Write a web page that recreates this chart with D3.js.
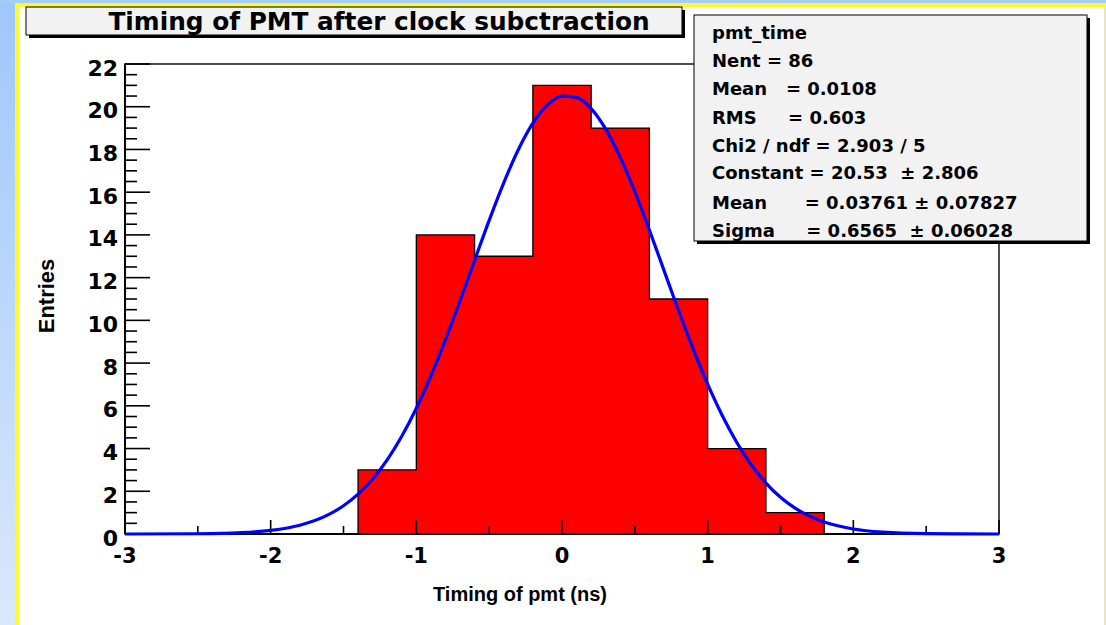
<!DOCTYPE html>
<html><head><meta charset="utf-8">
<script src="https://cdn.jsdelivr.net/npm/d3@7"></script>
<style>html,body{margin:0;padding:0;background:#fff;}svg{display:block;}</style>
</head><body>
<script>
// ---- data ----
const binEdges = [-1.4, -1.0, -0.6, -0.2, 0.2, 0.6, 1.0, 1.4, 1.8];
const binCounts = [3, 14, 13, 21, 19, 11, 4, 1];
// fit curve points (x, entries)
const fitX = [-3.0, -2.5, -2.2, -2.0, -1.8, -1.6, -1.5, -1.4, -1.3, -1.2, -1.1, -1.0, -0.9, -0.8, -0.7, -0.6, -0.5, -0.4, -0.3, -0.2, -0.1, 0.0, 0.1, 0.2, 0.3, 0.4, 0.5, 0.6, 0.7, 0.8, 0.9, 1.0, 1.1, 1.2, 1.3, 1.4, 1.5, 1.6, 1.8, 2.0, 2.2, 2.5, 3.0];
const fitY = [0.0, 0.012, 0.062, 0.166, 0.408, 0.915, 1.322, 1.867, 2.576, 3.473, 4.575, 5.888, 7.404, 9.097, 10.921, 12.811, 14.682, 16.440, 17.987, 19.228, 20.084, 20.496, 20.437, 19.911, 18.954, 17.629, 16.020, 14.224, 12.340, 10.460, 8.663, 7.011, 5.543, 4.282, 3.232, 2.384, 1.718, 1.209, 0.559, 0.236, 0.090, 0.018, 0.0];
const xTicks = [-3, -2, -1, 0, 1, 2, 3];
const yTicks = [0, 2, 4, 6, 8, 10, 12, 14, 16, 18, 20, 22];
const titleText = "Timing of PMT after clock subctraction";
const xTitle = "Timing of pmt (ns)";
const yTitle = "Entries";
const statLines = ["pmt_time", "Nent = 86", "Mean   = 0.0108", "RMS     = 0.603", "Chi2 / ndf = 2.903 / 5", "Constant = 20.53  \u00b1 2.806", "Mean      = 0.03761 \u00b1 0.07827", "Sigma     = 0.6565  \u00b1 0.06028"];

// ---- layout ----
const W = 1106, H = 625;
const svg = d3.select("body").append("svg").attr("width", W).attr("height", H);
const defs = svg.append("defs");
const lg = defs.append("linearGradient").attr("id", "bg").attr("x1", 0).attr("y1", 0).attr("x2", 0).attr("y2", 1);
lg.append("stop").attr("offset", 0).attr("stop-color", "#9ec8fa");
lg.append("stop").attr("offset", 1).attr("stop-color", "#dae8fb");

svg.append("rect").attr("x", 0).attr("y", 0).attr("width", W).attr("height", H).attr("fill", "#fff");
svg.append("rect").attr("x", 0).attr("y", 0).attr("width", 15).attr("height", H).attr("fill", "url(#bg)");
svg.append("rect").attr("x", 0).attr("y", 0).attr("width", W).attr("height", 3).attr("fill", "#a6cdf8");
svg.append("rect").attr("x", 15).attr("y", 3).attr("width", W - 15).attr("height", 4).attr("fill", "#fafa3a");
svg.append("rect").attr("x", 15).attr("y", 3).attr("width", 4).attr("height", H).attr("fill", "#fafa3a");
svg.append("rect").attr("x", 1104).attr("y", 7).attr("width", 2).attr("height", H).attr("fill", "#e8e4c8");

const fontD = "'DejaVu Sans', sans-serif";
const fontL = "'Liberation Sans', Arial, sans-serif";
const x = d3.scaleLinear().domain([-3, 3]).range([125, 999]);
const y = d3.scaleLinear().domain([0, 22]).range([534, 64]);

// frame
svg.append("rect").attr("x", x(-3)).attr("y", y(22)).attr("width", x(3) - x(-3)).attr("height", y(0) - y(22))
  .attr("fill", "none").attr("stroke", "#222").attr("stroke-width", 1.6);

// histogram
const bars = binCounts.map((c, i) => ({x0: binEdges[i], x1: binEdges[i + 1], c}));
const pathD = (() => {
  let p = d3.path();
  p.moveTo(x(bars[0].x0), y(0));
  bars.forEach(b => { p.lineTo(x(b.x0), y(b.c)); p.lineTo(x(b.x1), y(b.c)); });
  p.lineTo(x(bars[bars.length - 1].x1), y(0));
  return p.toString();
})();
svg.append("path").attr("d", pathD + "Z").attr("fill", "#ff0000").attr("stroke", "none");
svg.append("path").attr("d", pathD).attr("fill", "none").attr("stroke", "#000").attr("stroke-width", 1.3);

// axes
const g = svg.append("g");
g.append("line").attr("x1", x(-3)).attr("x2", x(3)).attr("y1", y(0)).attr("y2", y(0)).attr("stroke", "#000").attr("stroke-width", 2);
g.append("line").attr("x1", x(-3)).attr("x2", x(-3)).attr("y1", y(0)).attr("y2", y(22)).attr("stroke", "#000").attr("stroke-width", 2);
// x ticks
d3.range(-3, 3.001, 0.5).forEach(v => {
  const major = Math.abs(v - Math.round(v)) < 1e-6;
  g.append("line").attr("x1", x(v)).attr("x2", x(v)).attr("y1", y(0)).attr("y2", y(0) - (major ? 14 : 8))
    .attr("stroke", "#000").attr("stroke-width", 1.6);
});
xTicks.forEach(v => {
  g.append("text").attr("x", x(v)).attr("y", 563).attr("text-anchor", "middle")
    .attr("font-family", fontD).attr("font-weight", "bold").attr("font-size", 21).text(v);
});
// y ticks
d3.range(0, 22.001, 0.5).forEach(v => {
  const major = Math.abs(v / 2 - Math.round(v / 2)) < 1e-6;
  g.append("line").attr("x1", x(-3)).attr("x2", x(-3) + (major ? 25 : 12)).attr("y1", y(v)).attr("y2", y(v))
    .attr("stroke", "#000").attr("stroke-width", 1.6);
});
yTicks.forEach(v => {
  g.append("text").attr("x", 118).attr("y", y(v) + 11.5).attr("text-anchor", "end")
    .attr("font-family", fontD).attr("font-weight", "bold").attr("font-size", 22).text(v);
});
g.append("text").attr("x", 520).attr("y", 601).attr("text-anchor", "middle")
  .attr("font-family", fontL).attr("font-weight", "bold").attr("font-size", 20).text(xTitle);
g.append("text").attr("transform", "translate(54,296) rotate(-90)").attr("text-anchor", "middle")
  .attr("font-family", fontL).attr("font-weight", "bold").attr("font-size", 22).text(yTitle);

// fit curve
const line = d3.line().x((d, i) => x(fitX[i])).y(d => y(d)).curve(d3.curveMonotoneX);
svg.append("path").attr("d", line(fitY)).attr("fill", "none").attr("stroke", "#0000ff").attr("stroke-width", 3.2);

// title box
function box(x0, y0, w, h) {
  svg.append("rect").attr("x", x0 + 3).attr("y", y0 + 3).attr("width", w).attr("height", h).attr("fill", "#000");
  svg.append("rect").attr("x", x0).attr("y", y0).attr("width", w).attr("height", h).attr("fill", "#f2f2f2").attr("stroke", "#000").attr("stroke-width", 1);
}
box(26, 7, 656, 28);
svg.append("text").attr("x", 379).attr("y", 30).attr("text-anchor", "middle")
  .attr("font-family", fontD).attr("font-weight", "bold").attr("font-size", 24.8).text(titleText);

// stats box
box(694, 15, 393, 226);
const lineY = [32, 60, 88, 117, 145, 172, 202, 230];
statLines.forEach((s, i) => {
  svg.append("text").attr("x", 712).attr("y", lineY[i] + 6.5).attr("xml:space", "preserve")
    .style("white-space", "pre")
    .attr("font-family", fontD).attr("font-weight", "bold").attr("font-size", 18).text(s);
});
</script>
</body></html>
